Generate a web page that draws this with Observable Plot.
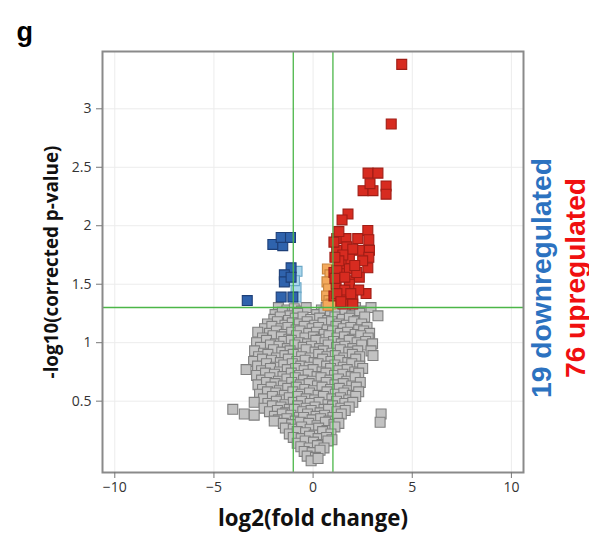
<!DOCTYPE html>
<html>
<head>
<meta charset="utf-8">
<script src="https://cdn.jsdelivr.net/npm/d3@7"></script>
<script src="https://cdn.jsdelivr.net/npm/@observablehq/plot@0.6"></script>
<style>
  html, body { margin: 0; padding: 0; background: #fff; }
  #chart svg { display: block; }
</style>
</head>
<body>
<div id="chart"></div>
<script>
// ---- Data ----
const xTicks = [-10, -5, 0, 5, 10];
const yTicks = [0.5, 1, 1.5, 2, 2.5, 3];
const foldThreshold = [-1, 1];
const pThreshold = 1.301;

// Not significant genes: [log2FC, -log10 p]
const notSignificant = [
  [-1.75,1.30],[-1.32,1.28],[-0.95,1.29],[-0.58,1.27],[-0.35,1.30],[0.42,1.28],[0.66,1.30],[1.04,1.27],[1.38,1.29],[1.77,1.28],[2.14,1.30],[2.52,1.27],[2.92,1.30],
  [-1.92,1.24],[-1.55,1.26],[-1.18,1.23],[-0.78,1.25],[0.18,1.24],[0.55,1.26],[0.87,1.23],[1.22,1.25],[1.6,1.26],[1.95,1.23],[2.35,1.25],[3.27,1.23],
  [-1.98,1.20],[-1.66,1.22],[-1.24,1.19],[-0.9,1.21],[-0.51,1.22],[-0.12,1.20],[0.33,1.21],[0.74,1.19],[1.1,1.22],[1.47,1.20],[1.83,1.21],[2.24,1.19],[2.6,1.22],
  [-2.3,1.16],[-1.8,1.18],[-1.42,1.15],[-1.05,1.17],[-0.7,1.16],[-0.3,1.18],[0.08,1.15],[0.5,1.17],[0.93,1.18],[1.3,1.16],[1.68,1.15],[2.05,1.18],[2.45,1.16],
  [-2.45,1.12],[-2.08,1.14],[-1.62,1.12],[-1.27,1.13],[-0.86,1.11],[-0.45,1.14],[-0.05,1.12],[0.28,1.13],[0.71,1.11],[1.15,1.14],[1.52,1.12],[1.9,1.13],[2.3,1.11],[2.72,1.13],
  [-2.79,1.09],[-2.2,1.08],[-1.85,1.10],[-1.45,1.07],[-1.08,1.09],[-0.66,1.10],[-0.22,1.08],[0.17,1.09],[0.56,1.07],[0.98,1.10],[1.37,1.08],[1.74,1.09],[2.12,1.07],[2.55,1.10],[2.85,1.08],
  [-2.55,1.04],[-2.02,1.06],[-1.6,1.05],[-1.22,1.03],[-0.84,1.06],[-0.41,1.04],[0.02,1.05],[0.4,1.03],[0.8,1.06],[1.2,1.04],[1.58,1.05],[1.98,1.03],[2.4,1.06],[2.78,1.04],
  [-2.85,1.00],[-2.35,1.02],[-1.9,0.99],[-1.48,1.01],[-1.1,1.02],[-0.7,1.00],[-0.28,0.99],[0.14,1.02],[0.6,1.00],[1.03,1.01],[1.42,0.99],[1.82,1.02],[2.22,1.00],[2.65,1.01],[3.0,0.99],
  [-2.65,0.96],[-2.15,0.98],[-1.72,0.97],[-1.3,0.95],[-0.92,0.98],[-0.5,0.96],[-0.08,0.97],[0.33,0.95],[0.76,0.98],[1.18,0.96],[1.6,0.97],[2.0,0.95],[2.45,0.98],
  [-2.95,0.93],[-2.5,0.91],[-2.0,0.94],[-1.58,0.92],[-1.16,0.93],[-0.75,0.91],[-0.35,0.94],[0.1,0.92],[0.52,0.93],[0.95,0.91],[1.37,0.94],[1.8,0.92],[2.25,0.93],[2.92,0.93],
  [-2.75,0.88],[-2.28,0.90],[-1.85,0.87],[-1.42,0.89],[-1.0,0.90],[-0.58,0.88],[-0.15,0.87],[0.28,0.90],[0.7,0.88],[1.12,0.89],[1.55,0.87],[1.98,0.90],[2.35,0.88],[3.02,0.89],
  [-3.0,0.84],[-2.55,0.86],[-2.1,0.85],[-1.65,0.83],[-1.25,0.86],[-0.82,0.84],[-0.4,0.85],[0.05,0.83],[0.48,0.86],[0.9,0.84],[1.33,0.85],[1.75,0.83],[2.15,0.86],
  [-2.8,0.80],[-2.35,0.82],[-1.9,0.79],[-1.48,0.81],[-1.05,0.82],[-0.62,0.80],[-0.2,0.79],[0.25,0.82],[0.68,0.80],[1.1,0.81],[1.52,0.79],[1.95,0.82],[2.35,0.80],
  [-3.38,0.77],[-2.6,0.76],[-2.15,0.78],[-1.7,0.75],[-1.3,0.77],[-0.88,0.78],[-0.45,0.76],[0.0,0.77],[0.45,0.75],[0.88,0.78],[1.3,0.76],[1.72,0.77],[2.1,0.75],[2.5,0.78],
  [-2.85,0.72],[-2.4,0.74],[-1.95,0.73],[-1.52,0.71],[-1.1,0.74],[-0.68,0.72],[-0.25,0.73],[0.2,0.71],[0.65,0.74],[1.08,0.72],[1.5,0.73],[1.92,0.71],[2.3,0.74],
  [-2.6,0.68],[-2.18,0.70],[-1.75,0.67],[-1.32,0.69],[-0.9,0.70],[-0.48,0.68],[-0.05,0.67],[0.4,0.70],[0.85,0.68],[1.28,0.69],[1.7,0.67],[2.12,0.70],
  [-2.78,0.64],[-2.35,0.66],[-1.92,0.65],[-1.5,0.63],[-1.08,0.66],[-0.65,0.64],[-0.2,0.65],[0.22,0.63],[0.66,0.66],[1.1,0.64],[1.52,0.65],[1.95,0.63],[2.38,0.66],
  [-2.55,0.60],[-2.12,0.62],[-1.7,0.59],[-1.28,0.61],[-0.85,0.62],[-0.42,0.60],[0.02,0.59],[0.45,0.62],[0.88,0.60],[1.32,0.61],[1.75,0.59],[2.18,0.62],
  [-2.7,0.56],[-2.3,0.58],[-1.88,0.57],[-1.45,0.55],[-1.02,0.58],[-0.6,0.56],[-0.18,0.57],[0.25,0.55],[0.7,0.58],[1.12,0.56],[1.55,0.57],[1.98,0.55],[2.3,0.58],
  [-2.5,0.52],[-2.05,0.54],[-1.62,0.51],[-1.2,0.53],[-0.78,0.54],[-0.35,0.52],[0.08,0.51],[0.52,0.54],[0.95,0.52],[1.38,0.53],[1.8,0.51],[2.15,0.54],
  [-2.97,0.49],[-2.28,0.48],[-1.85,0.50],[-1.42,0.47],[-1.0,0.49],[-0.58,0.50],[-0.15,0.48],[0.3,0.49],[0.75,0.47],[1.18,0.50],[1.6,0.48],[2.0,0.49],
  [-2.47,0.44],[-2.05,0.46],[-1.62,0.45],[-1.2,0.43],[-0.78,0.46],[-0.35,0.44],[0.1,0.45],[0.55,0.43],[0.98,0.46],[1.4,0.44],[1.82,0.45],
  [-4.05,0.43],[-2.2,0.41],[-1.8,0.42],[-1.38,0.40],[-0.95,0.43],[-0.52,0.41],[-0.1,0.42],[0.35,0.40],[0.78,0.43],[1.2,0.41],[1.62,0.42],[3.43,0.39],
  [-3.47,0.39],[-2.97,0.38],[-1.95,0.37],[-1.55,0.39],[-1.12,0.38],[-0.7,0.36],[-0.28,0.39],[0.15,0.37],[0.58,0.38],[1.0,0.36],[1.42,0.39],
  [-1.75,0.34],[-1.32,0.35],[-0.9,0.33],[-0.48,0.36],[-0.05,0.34],[0.38,0.35],[0.8,0.33],[1.22,0.36],[3.38,0.32],
  [-1.96,0.33],[-1.5,0.31],[-1.08,0.30],[-0.65,0.32],[-0.22,0.31],[0.2,0.29],[0.62,0.32],[1.05,0.30],[1.3,0.31],
  [-1.4,0.27],[-1.0,0.26],[-0.58,0.28],[-0.15,0.26],[0.28,0.27],[0.7,0.25],[1.1,0.28],
  [-1.2,0.22],[-0.8,0.24],[-0.38,0.23],[0.05,0.21],[0.48,0.24],[0.9,0.22],
  [-1.0,0.19],[-0.6,0.18],[-0.18,0.20],[0.25,0.18],[0.68,0.19],[0.95,0.17],
  [-0.8,0.14],[-0.4,0.16],[0.02,0.15],[0.45,0.13],[0.75,0.16],
  [-0.62,0.11],[-0.2,0.10],[0.22,0.12],[0.55,0.10],
  [-0.45,0.07],[-0.05,0.06],[0.35,0.08],
  [-0.3,0.03],[0.12,0.02],
  [-0.1,-0.01],[0.25,0.01]
];

// Significant but small fold change (orange, light blue)
const upSmall = [[0.72, 1.63], [0.85, 1.58], [0.7, 1.52], [0.78, 1.46], [0.68, 1.40], [0.8, 1.36], [0.9, 1.33], [0.75, 1.32]];
const downSmall = [[-0.81, 1.61], [-0.86, 1.47], [-0.86, 1.39], [-0.94, 1.53]];

// Downregulated (dark blue)
const downregulated = [
  [-2.03, 1.84], [-1.53, 1.83], [-1.61, 1.90], [-1.14, 1.90], [-3.32, 1.36],
  [-1.11, 1.64], [-1.45, 1.58], [-1.45, 1.52], [-1.61, 1.39], [-1.11, 1.56], [-1.02, 1.39]
];

// Upregulated (red)
const upregulated = [
  [4.47, 3.38], [3.94, 2.87], [2.77, 2.45], [3.27, 2.45], [2.52, 2.30], [3.02, 2.30],
  [2.87, 2.36], [3.68, 2.34], [3.68, 2.27], [1.76, 2.10], [1.46, 2.05],
  [1.19, 1.89], [1.66, 1.89], [2.25, 1.89], [2.76, 1.96], [2.81, 1.88],
  [1.19, 1.79], [1.70, 1.82], [2.33, 1.79], [2.84, 1.79], [2.81, 1.73],
  [1.83, 1.72], [1.41, 1.67], [1.83, 1.63], [2.76, 1.64], [1.05, 1.60],
  [1.33, 1.59], [1.83, 1.53], [2.33, 1.56], [1.16, 1.50], [1.83, 1.50],
  [1.05, 1.40], [1.58, 1.39], [2.0, 1.39], [2.67, 1.42], [1.50, 1.33], [2.0, 1.33],
  [1.3, 1.95], [2.0, 1.80], [1.5, 1.75], [2.5, 1.70], [1.2, 1.62], [2.2, 1.60],
  [1.6, 1.45], [1.2, 1.42], [2.3, 1.45], [1.1, 1.55], [1.9, 1.42], [1.4, 1.35],
  [1.05, 1.86], [1.3, 1.70], [2.1, 1.66], [1.1, 1.73], [1.6, 1.56]
];

const downLabel = "19 downregulated";
const upLabel = "76 upregulated";
const panelLetter = "g";
const xTitle = "log2(fold change)";
const yTitle = "-log10(corrected p-value)";

// ---- Build ----
const sq = (data, fill, stroke) => Plot.dot(data, {
  x: d => d[0], y: d => d[1], symbol: "square", r: 5.6,
  fill, stroke, strokeWidth: 1.1
});
const tickFont = "'Open Sans', sans-serif";
const titleFont = "'Open Sans', sans-serif";
const labelFont = "'Liberation Sans', Arial, sans-serif";

const chart = Plot.plot({
  width: 589,
  height: 540,
  marginLeft: 102,
  marginRight: 66,
  marginTop: 51,
  marginBottom: 68,
  style: { background: "#fff", fontFamily: tickFont },
  x: { domain: [-10.62, 10.61] },
  y: { domain: [-0.11, 3.49] },
  marks: [
    Plot.gridX(xTicks, { stroke: "#ececec", strokeOpacity: 1, strokeWidth: 1 }),
    Plot.gridY(yTicks, { stroke: "#ececec", strokeOpacity: 1, strokeWidth: 1 }),
    sq(notSignificant, "#c2c2c2", "#7f7f7f"),
    sq(upSmall, "#f4a95c", "#c7843c"),
    sq(downSmall, "#a9d6ec", "#6aa6c6"),
    sq(upregulated, "#d72b20", "#a01d15"),
    sq(downregulated, "#2f63ad", "#1d3f78"),
    Plot.ruleX(foldThreshold, { stroke: "#4cb648", strokeWidth: 1.3 }),
    Plot.ruleY([pThreshold], { stroke: "#4cb648", strokeWidth: 1.3 }),
    Plot.frame({ stroke: "#8a8a8a", strokeWidth: 2 }),
    Plot.axisX(xTicks, {
      tickSize: 6, tickPadding: 4, stroke: "#777", fill: "#333",
      fontSize: 14, label: null, tickFormat: d => d < 0 ? "\u2212" + Math.abs(d) : String(d)
    }),
    Plot.axisY(yTicks, {
      tickSize: 6, tickPadding: 5, stroke: "#777", fill: "#333",
      fontSize: 14, label: null, tickFormat: d => String(d)
    }),
    Plot.text([xTitle], {
      frameAnchor: "bottom", dy: 46, textAnchor: "middle", lineAnchor: "middle", text: d => d,
      fontSize: 22, fontWeight: "bold", fill: "#111", fontFamily: titleFont
    }),
    Plot.text([yTitle], {
      frameAnchor: "left", dx: -51, dy: 0, rotate: -90, textAnchor: "middle", lineAnchor: "middle", text: d => d,
      fontSize: 20, fontWeight: "bold", fill: "#111", fontFamily: titleFont
    }),
    Plot.text([panelLetter], {
      frameAnchor: "top-left", dx: -86, dy: -19, textAnchor: "start", lineAnchor: "middle", text: d => d,
      fontSize: 27, fontWeight: "bold", fill: "#000", fontFamily: labelFont
    }),
    Plot.text([downLabel], {
      frameAnchor: "right", dx: 18, dy: 16, rotate: -90, textAnchor: "middle", lineAnchor: "middle", text: d => d,
      fontSize: 27, fontWeight: "bold", fill: "#2c72c0", fontFamily: labelFont
    }),
    Plot.text([upLabel], {
      frameAnchor: "right", dx: 52, dy: 16, rotate: -90, textAnchor: "middle", lineAnchor: "middle", text: d => d,
      fontSize: 27, fontWeight: "bold", fill: "#f01010", fontFamily: labelFont
    })
  ]
});
document.getElementById("chart").append(chart);

// Fit the long labels to the lengths they have in the reference.
const targetLengths = [[xTitle, 190], [yTitle, 233], [downLabel, 240], [upLabel, 200]];
for (const [txt, target] of targetLengths) {
  const el = [...chart.querySelectorAll("text")].find(t => t.textContent === txt);
  if (!el) continue;
  const len = el.getComputedTextLength();
  const fs = parseFloat(getComputedStyle(el).fontSize);
  if (len > 0 && fs > 0) el.style.fontSize = (fs * target / len).toFixed(2) + "px";
}
</script>
</body>
</html>
